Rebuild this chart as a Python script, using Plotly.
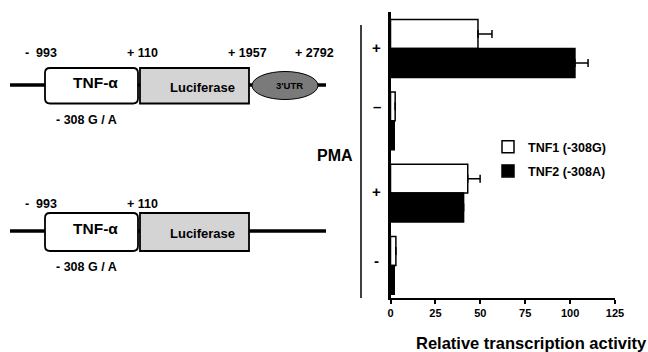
import plotly.graph_objects as go

W, H = 648, 352

# ---------------- data ----------------
pma_labels = ["+", "\u2013", "+", "-"]
group_pos = [0, 1, 2, 3]
tnf1_values = [48.7, 2.6, 43.0, 3.0]
tnf1_errors = [7.8, 0, 6.9, 0]
tnf2_values = [102.7, 2.1, 40.7, 2.1]
tnf2_errors = [7.3, 0, 0, 0]
series_names = ["TNF1 (-308G)", "TNF2 (-308A)"]
x_ticks = [0, 25, 50, 75, 100, 125]
x_title = "Relative transcription activity"
y_title = "PMA"
construct1_positions = ["-  993", "+ 110", "+ 1957", "+ 2792"]
construct2_positions = ["-  993", "+ 110"]
promoter_label = "TNF-\u03b1"
reporter_label = "Luciferase"
utr_label = "3'UTR"
snp_label = "- 308 G / A"

FONT = "Liberation Sans, Arial, sans-serif"


def px(x):
    return x / W


def py(y):
    return 1 - y / H


fig = go.Figure()

fig.add_trace(go.Bar(
    y=group_pos, x=tnf1_values, orientation="h", name=series_names[0],
    marker=dict(color="white", line=dict(color="black", width=1.5)),
    error_x=dict(type="data", array=tnf1_errors, arrayminus=[0] * 4, symmetric=False,
                 color="black", thickness=1.5, width=4),
    legendgroup="a",
))
fig.add_trace(go.Bar(
    y=group_pos, x=tnf2_values, orientation="h", name=series_names[1],
    marker=dict(color="black", line=dict(color="black", width=1.5)),
    error_x=dict(type="data", array=tnf2_errors, arrayminus=[0] * 4, symmetric=False,
                 color="black", thickness=1.5, width=4),
    legendgroup="b",
))

shapes = []
annotations = []


def text(x, y, s, size, **kw):
    d = dict(x=px(x), y=py(y), xref="paper", yref="paper", text=s, showarrow=False,
             xanchor="center", yanchor="middle",
             font=dict(family=FONT, size=size, color="black", weight="bold"))
    d.update(kw)
    annotations.append(d)


# PMA bracket line
shapes.append(dict(type="line", xref="paper", yref="paper",
                   x0=px(361), x1=px(361), y0=py(25), y1=py(298),
                   line=dict(color="black", width=1.5)))

# PMA state labels (at the group positions)
label_shift = [1, 14, 2, 5]
for i, lab in enumerate(pma_labels):
    annotations.append(dict(x=px(376.5), xref="paper", y=group_pos[i], yref="y",
                            yshift=label_shift[i], text=lab, showarrow=False,
                            font=dict(family=FONT, size=15, color="black", weight="bold"),
                            xanchor="center", yanchor="middle"))

text(335, 155, y_title, 16)
text(531.5, 343, x_title, 16.5)


# ---------------- construct diagrams ----------------
def rounded_rect(x0, y0, x1, y1, r):
    X = lambda v: f"{px(v):.5f}"
    Y = lambda v: f"{py(v):.5f}"
    return (f"M {X(x0 + r)},{Y(y0)} L {X(x1 - r)},{Y(y0)} Q {X(x1)},{Y(y0)} {X(x1)},{Y(y0 + r)} "
            f"L {X(x1)},{Y(y1 - r)} Q {X(x1)},{Y(y1)} {X(x1 - r)},{Y(y1)} "
            f"L {X(x0 + r)},{Y(y1)} Q {X(x0)},{Y(y1)} {X(x0)},{Y(y1 - r)} "
            f"L {X(x0)},{Y(y0 + r)} Q {X(x0)},{Y(y0)} {X(x0 + r)},{Y(y0)} Z")


def construct(top, bottom, line_y, with_utr, pos_labels, label_y, snp_y):
    shapes.append(dict(type="line", xref="paper", yref="paper",
                       x0=px(10), x1=px(326), y0=py(line_y), y1=py(line_y),
                       line=dict(color="black", width=3.5)))
    shapes.append(dict(type="path", xref="paper", yref="paper",
                       path=rounded_rect(45, top, 138, bottom, 5),
                       fillcolor="white", line=dict(color="black", width=1.8)))
    shapes.append(dict(type="rect", xref="paper", yref="paper",
                       x0=px(140), x1=px(249), y0=py(top), y1=py(bottom),
                       fillcolor="#d4d4d4", line=dict(color="black", width=1.8)))
    if with_utr:
        shapes.append(dict(type="circle", xref="paper", yref="paper",
                           x0=px(252), x1=px(318), y0=py(line_y - 13.5), y1=py(line_y + 14.5),
                           fillcolor="#7a7a7a", line=dict(color="black", width=1)))
        text(289, line_y + 0.5, utr_label, 9.5)
    xs = [41, 142.5, 247, 314]
    for i, lab in enumerate(pos_labels):
        text(xs[i], label_y, lab, 12.5)
    text(95, (top + bottom) / 2 - 3, promoter_label, 15.5)
    text(202, (top + bottom) / 2 + 1.5, reporter_label, 13)
    text(86, snp_y, snp_label, 12.5)


construct(68, 103.5, 85, True, construct1_positions, 53, 120)
construct(213, 251, 231, False, construct2_positions, 204, 267)

fig.update_layout(
    width=W, height=H,
    margin=dict(l=0, r=0, t=0, b=0),
    paper_bgcolor="white", plot_bgcolor="white",
    barmode="group", bargap=0.2, bargroupgap=0,
    showlegend=True,
    legend=dict(x=px(488), y=py(132), xanchor="left", yanchor="top",
                font=dict(family=FONT, size=12.5, color="black", weight="bold"),
                traceorder="grouped", tracegroupgap=5, bgcolor="rgba(0,0,0,0)",
                itemclick=False, itemwidth=30),
    xaxis=dict(domain=[px(390.5), px(615)], range=[0, 125], tickvals=x_ticks,
               showline=True, linecolor="black", linewidth=2, ticks="outside", ticklen=4,
               tickwidth=1.5, tickcolor="black", showgrid=False, zeroline=False,
               automargin=False,
               tickfont=dict(family=FONT, size=11, color="black", weight="bold")),
    yaxis=dict(domain=[py(298), py(12)], range=[3.451, -0.505], showline=True,
               linecolor="black", linewidth=3, showticklabels=False, ticks="",
               automargin=False, showgrid=False, zeroline=False),
    shapes=shapes, annotations=annotations,
)

fig.write_html("out.html", config={"displayModeBar": False},
               post_script="document.body.style.margin='0';document.body.style.overflow='hidden';")
